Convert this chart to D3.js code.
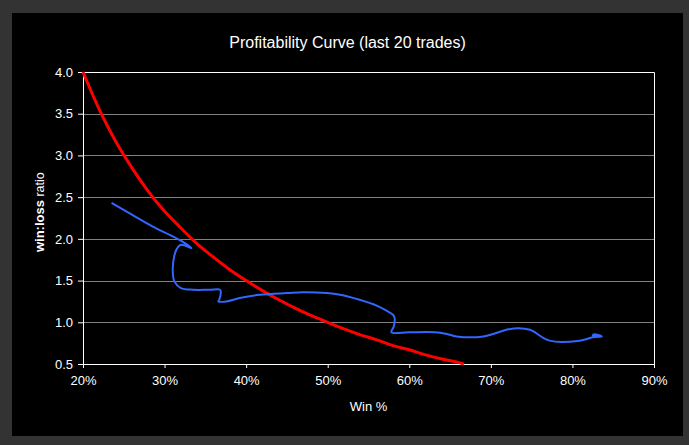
<!DOCTYPE html>
<html>
<head>
<meta charset="utf-8">
<script src="https://cdnjs.cloudflare.com/ajax/libs/d3/7.8.5/d3.min.js"></script>
<style>
  body { margin: 0; background: #333333; }
  text { font-family: "Liberation Sans", Arial, sans-serif; fill: #ffffff; }
</style>
</head>
<body>
<div id="chart-area"></div>
<script>
// Profitability curve - breakeven line and rolling 20 trade path

// breakeven curve (red)
var breakevenWin = [20, 22, 24, 26, 28, 30, 32, 34, 36, 38, 40, 42, 44, 46, 48, 50, 52, 54, 56, 58, 60, 62, 64, 66, 66.7];
var breakevenRatio = [4.0, 3.55, 3.17, 2.85, 2.57, 2.33, 2.13, 1.94, 1.78, 1.63, 1.5, 1.38, 1.27, 1.17, 1.08, 1.0, 0.92, 0.85, 0.79, 0.72, 0.67, 0.61, 0.56, 0.52, 0.5];

// last 20 trades path (blue)
var tradeWin = [23.5, 26.0, 28.5, 31.0, 32.3, 33.3, 32.0, 31.5, 31.2, 31.0, 31.2, 32.0, 33.5, 35.5, 36.8, 36.9, 36.7, 36.6, 37.6, 39.2, 41.7, 45.0, 47.0, 49.9, 51.5, 53.9, 56.0, 57.2, 58.0, 58.2, 58.1, 57.8, 60.0, 63.1, 64.6, 65.8, 69.1, 70.3, 71.9, 73.4, 74.8, 77.2, 80.9, 82.5, 83.6, 82.6, 82.5, 83.4];
var tradeRatio = [2.43, 2.29, 2.15, 2.03, 1.96, 1.89, 1.93, 1.88, 1.80, 1.63, 1.49, 1.41, 1.39, 1.39, 1.39, 1.36, 1.27, 1.25, 1.25, 1.29, 1.33, 1.35, 1.36, 1.35, 1.33, 1.27, 1.20, 1.14, 1.09, 1.05, 0.95, 0.88, 0.88, 0.88, 0.86, 0.83, 0.83, 0.86, 0.91, 0.93, 0.91, 0.78, 0.78, 0.82, 0.83, 0.855, 0.84, 0.835];

var xTicks = [20, 30, 40, 50, 60, 70, 80, 90];
var yTicks = [0.5, 1.0, 1.5, 2.0, 2.5, 3.0, 3.5, 4.0];

var W = 689, H = 445;
var margin = {top: 72, left: 83, right: 35, bottom: 81};
var width = W - margin.left - margin.right;
var height = H - margin.top - margin.bottom;

var root = d3.select('#chart-area')
  .append('svg')
    .attr('width', W)
    .attr('height', H);

// black chart panel
root.append('rect')
  .attr('x', 12)
  .attr('y', 13)
  .attr('width', 671)
  .attr('height', 423)
  .attr('fill', '#000000');

root.append('text')
  .attr('x', 347.5)
  .attr('y', 48)
  .attr('font-size', '16px')
  .attr('text-anchor', 'middle')
  .text('Profitability Curve (last 20 trades)');

var svg = root.append('g')
  .attr('transform', 'translate(' + margin.left + ',' + margin.top + ')');

var x = d3.scaleLinear()
  .domain([20, 90])
  .range([0, width]);
var y = d3.scaleLinear()
  .domain([0.5, 4.0])
  .range([height, 0]);

// gridlines
svg.append('g')
  .selectAll('line')
  .data(yTicks.slice(1, -1))
  .enter().append('line')
    .attr('x1', 0)
    .attr('x2', width)
    .attr('y1', (d) => { return Math.round(y(d)) + 0.5 })
    .attr('y2', (d) => { return Math.round(y(d)) + 0.5 })
    .attr('stroke', '#808080')
    .attr('stroke-width', 1);

// plot border top / right
svg.append('path')
  .attr('d', 'M0,0.5H' + (width + 0.5) + 'V' + height)
  .attr('fill', 'none')
  .attr('stroke', '#ffffff');

// axes
var xAxisCall = d3.axisBottom(x)
  .tickValues(xTicks)
  .tickSize(4)
  .tickPadding(8)
  .tickFormat((d) => { return d + '%' });
var xAxis = svg.append('g')
  .attr('class', 'x-axis')
  .attr('transform', 'translate(0,' + height + ')')
  .call(xAxisCall);

var yAxisCall = d3.axisLeft(y)
  .tickValues(yTicks)
  .tickSize(5)
  .tickPadding(5)
  .tickFormat(d3.format('.1f'));
var yAxis = svg.append('g')
  .attr('class', 'y-axis')
  .call(yAxisCall);

[xAxis, yAxis].forEach(function(a){
  a.select('.domain').attr('stroke', '#ffffff');
  a.selectAll('.tick line').attr('stroke', '#ffffff');
  a.selectAll('.tick text')
    .attr('fill', '#ffffff')
    .attr('font-size', '13px')
    .attr('font-family', '"Liberation Sans", Arial, sans-serif');
});

// axis labels
svg.append('text')
  .attr('x', width / 2)
  .attr('y', height + 47)
  .attr('font-size', '13px')
  .attr('text-anchor', 'middle')
  .text('Win %');

var yLabel = svg.append('text')
  .attr('x', -(y(2.32)))
  .attr('y', -39)
  .attr('font-size', '13px')
  .attr('text-anchor', 'middle')
  .attr('transform', 'rotate(-90)');
yLabel.append('tspan').attr('font-weight', 'bold').text('win:loss');
yLabel.append('tspan').attr('font-size', '12.5px').text(' ratio');

// lines
var line = d3.line()
  .x((d) => { return x(d[0]) })
  .y((d) => { return y(d[1]) })
  .curve(d3.curveCatmullRom.alpha(0.5));

var breakeven = breakevenWin.map(function(w, i){ return [w, breakevenRatio[i]] });
var trades = tradeWin.map(function(w, i){ return [w, tradeRatio[i]] });

svg.append('path')
  .datum(breakeven)
  .attr('d', line)
  .attr('fill', 'none')
  .attr('stroke', '#ff0000')
  .attr('stroke-width', 3);

svg.append('path')
  .datum(trades)
  .attr('d', line)
  .attr('fill', 'none')
  .attr('stroke', '#3366ff')
  .attr('stroke-width', 2)
  .attr('stroke-linejoin', 'round');
</script>
</body>
</html>
